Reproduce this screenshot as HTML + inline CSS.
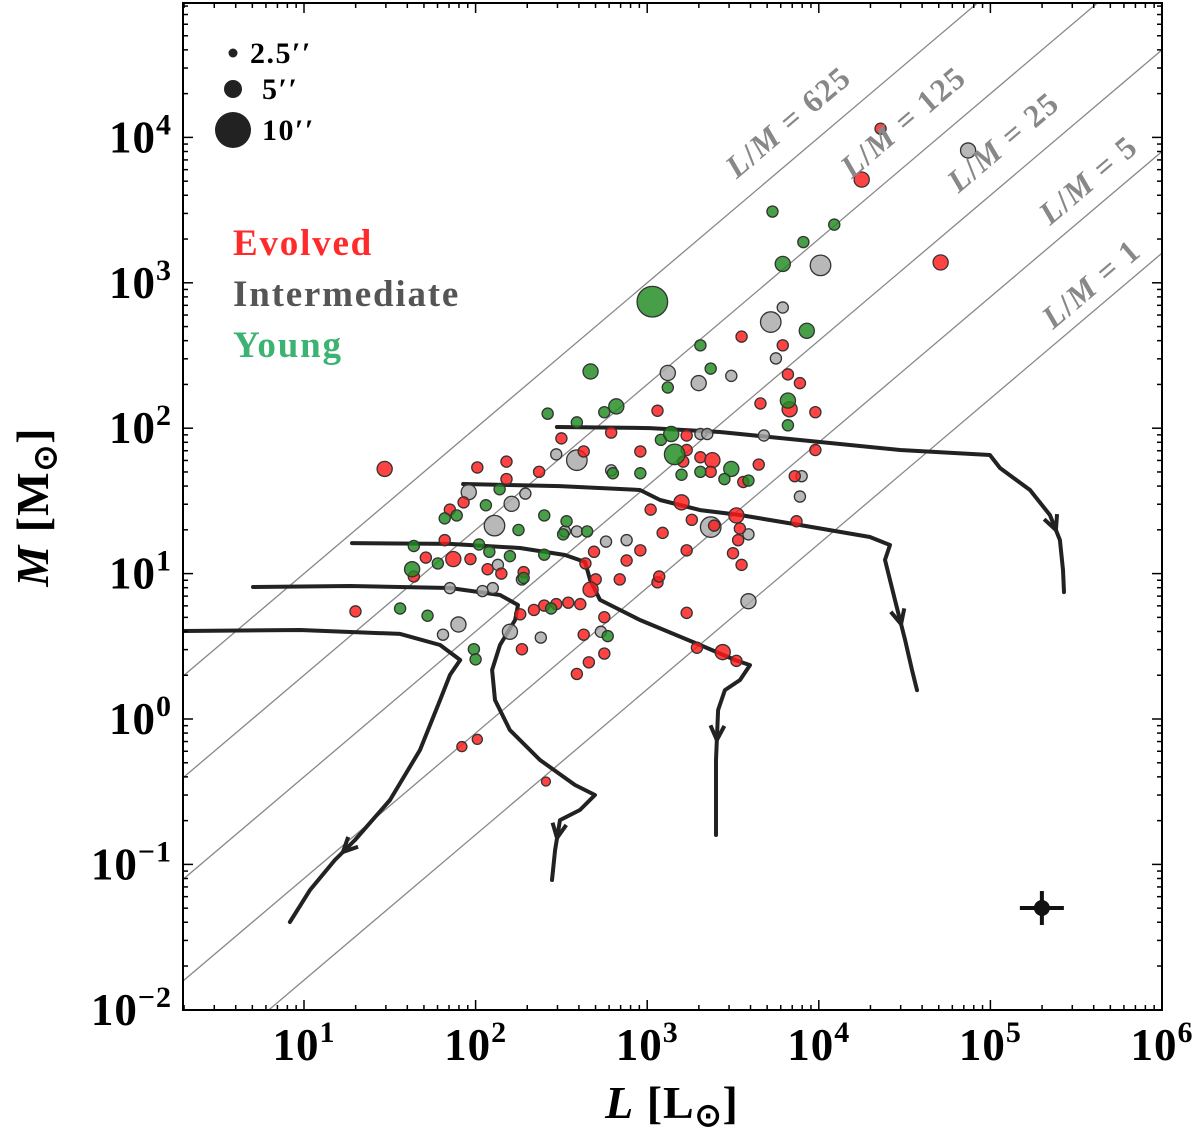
<!DOCTYPE html>
<html><head><meta charset="utf-8">
<style>
html,body{margin:0;padding:0;background:#fff;}
svg{display:block;font-family:"Liberation Serif",serif;}
</style></head>
<body>
<svg id="chart" width="1200" height="1130" viewBox="0 0 1200 1130" xmlns="http://www.w3.org/2000/svg">
<defs><clipPath id="plotclip"><rect x="183" y="3" width="979" height="1007"/></clipPath></defs>
<g id="grid" clip-path="url(#plotclip)"></g>
<g id="tracks" clip-path="url(#plotclip)"></g>
<g id="points" clip-path="url(#plotclip)"></g>
<g id="axes"></g>
<g id="legend"></g>
</svg>
<script>
// ---- data (log10 L [Lsun], log10 M [Msun]) ----
const redLogL=[4.36,4.25,4.71,1.47,3.06,3.55,3.79,3.82,3.83,3.98,3.66,3.98,3.86,3.65,3.56,3.31,3.23,2.96,2.79,2.63,2.50,2.37,2.18,2.18,2.01,1.93,1.85,1.82,1.71,1.87,1.64,1.30,1.97,2.07,2.15,2.28,2.64,2.69,2.70,2.67,2.61,2.54,2.47,2.40,2.34,2.26,2.84,2.75,2.63,2.27,2.75,2.66,2.59,3.29,3.44,3.52,3.23,3.06,2.96,3.09,3.02,3.20,3.26,3.39,3.52,3.54,3.53,3.50,3.55,3.23,3.07,2.88,2.41,2.01,1.92,3.38,3.21,3.37,3.87,3.23,3.89];
const redLogM=[4.06,3.71,3.14,1.72,2.12,2.63,2.57,2.37,2.13,2.11,2.17,1.85,1.67,1.75,1.63,1.80,1.85,1.84,1.97,1.84,1.93,1.70,1.77,1.65,1.73,1.49,1.44,1.23,1.11,1.10,0.98,0.74,1.10,1.03,1.00,1.01,1.07,1.15,0.96,0.89,0.79,0.80,0.79,0.78,0.75,0.72,0.96,0.70,0.58,0.48,0.45,0.39,0.31,0.49,0.46,0.40,0.73,0.94,1.16,1.28,1.44,1.49,1.37,1.33,1.40,1.31,1.23,1.14,1.06,1.16,0.98,1.09,-0.43,-0.14,-0.19,1.78,1.77,1.70,1.36,1.95,2.31];
const redSize=[3.1,4.2,4.2,4.2,3.1,3.1,3.1,3.1,4.2,3.1,3.1,3.1,3.1,3.1,3.1,3.1,3.1,3.1,3.1,3.1,3.1,3.1,3.1,3.1,3.1,3.1,3.1,3.1,3.1,4.2,3.1,3.1,3.1,3.1,3.1,3.1,3.1,3.1,3.1,4.2,3.1,3.1,3.1,3.1,3.1,3.1,3.1,3.1,3.1,3.1,3.1,3.1,3.1,3.1,4.2,3.1,3.1,3.1,3.1,3.1,3.1,4.2,3.1,3.1,4.2,3.1,3.1,3.1,3.1,3.1,3.1,3.1,2.5,2.8,2.8,4.2,3.1,3.1,3.1,3.1,3.1];
const grayLogL=[4.87,4.01,3.72,3.79,3.75,3.49,3.30,3.12,3.31,3.35,3.68,3.90,3.89,3.59,3.37,2.88,2.76,2.59,2.47,1.96,2.11,2.21,2.29,2.52,2.59,2.13,2.27,2.10,1.90,1.81,1.85,2.04,2.20,2.38,2.73,2.79,3.59];
const grayLogM=[3.91,3.12,2.73,2.83,2.48,2.36,2.31,2.38,1.96,1.96,1.95,1.67,1.53,0.81,1.32,1.23,1.22,1.78,1.82,1.56,1.33,1.48,1.55,1.29,1.29,1.06,0.96,0.90,0.65,0.58,0.90,0.88,0.60,0.56,0.60,1.71,1.27];
const graySize=[4.2,5.7,5.7,3.1,3.1,3.1,4.2,4.2,3.1,3.1,3.1,3.1,3.1,4.2,5.7,3.1,3.1,5.7,3.1,4.2,5.7,4.2,3.1,3.1,3.1,3.1,3.1,3.1,4.2,3.1,3.1,3.1,4.2,3.1,3.1,3.1,3.1];
const greenLogL=[3.03,3.73,3.91,4.09,3.79,3.93,3.31,2.67,2.82,2.42,2.59,2.75,3.12,3.37,3.08,3.14,3.16,3.31,3.49,2.80,3.20,3.82,3.82,3.59,2.96,2.14,1.89,1.82,2.06,2.40,2.53,2.65,2.51,2.25,2.08,2.20,2.40,1.64,1.63,1.78,2.02,1.56,1.72,2.28,1.99,2.00,2.44,3.45,2.77];
const greenLogM=[2.87,3.49,3.28,3.40,3.13,2.67,2.57,2.39,2.15,2.10,2.04,2.11,2.28,2.41,1.92,1.96,1.82,1.70,1.72,1.69,1.68,2.19,2.02,1.64,1.69,1.58,1.40,1.38,1.47,1.40,1.36,1.29,1.27,1.30,1.15,1.12,1.13,1.19,1.03,1.07,1.20,0.76,0.71,0.97,0.48,0.41,0.76,1.65,0.57];
const greenSize=[8.5,3.1,3.1,3.1,4.2,4.2,3.1,4.2,4.2,3.1,3.1,3.1,3.1,3.1,3.1,4.2,5.7,3.1,4.2,3.1,3.1,4.2,3.1,3.1,3.1,3.1,3.1,3.1,3.1,3.1,3.1,3.1,3.1,3.1,3.1,3.1,3.1,3.1,4.2,3.1,3.1,3.1,3.1,3.1,3.1,3.1,3.1,3.1,3.1];
const lmRatios=[625,125,25,5,1];
const lmLabels=["625","125","25","5","1"];
// evolutionary tracks (log L, log M)
const track1L=[0.295,0.977,1.560,1.793,1.910,1.851,1.793,1.676,1.501,1.297,1.180,1.035,0.918];
const track1M=[0.605,0.612,0.585,0.509,0.406,0.303,0.131,-0.213,-0.557,-0.832,-0.970,-1.176,-1.396];
const track2L=[0.703,1.268,1.851,2.142,2.247,2.230,2.142,2.096,2.113,2.200,2.375,2.579,2.696,2.608,2.492,2.463,2.445];
const track2M=[0.908,0.915,0.901,0.853,0.784,0.681,0.509,0.337,0.131,-0.076,-0.282,-0.454,-0.523,-0.626,-0.695,-0.901,-1.107];
const track3L=[1.280,1.851,2.259,2.521,2.638,2.667,2.725,2.958,3.308,3.512,3.599,3.541,3.453,3.413,3.401,3.401];
const track3M=[1.210,1.204,1.176,1.128,1.080,0.956,0.819,0.681,0.509,0.406,0.371,0.268,0.199,0.062,-0.282,-0.798];
const track4L=[1.927,2.492,2.958,3.075,3.308,3.541,3.890,4.298,4.415,4.386,4.444,4.503,4.543,4.572];
const track4M=[1.616,1.602,1.575,1.506,1.437,1.403,1.334,1.252,1.197,1.094,0.818,0.543,0.337,0.199];
const track5L=[2.474,3.016,3.424,3.890,4.473,4.997,5.056,5.231,5.347,5.405,5.423,5.429];
const track5M=[2.008,2.001,1.974,1.919,1.850,1.816,1.726,1.575,1.403,1.231,1.025,0.873];
const arrowSeg=[9,14,13,10,8];
const xTicks=[1,2,3,4,5,6];
const yTicks=[-2,-1,0,1,2,3,4];
const yTickLabels=["10","10","10","10","10","10","10"];
const errLogL=5.3, errLogM=-1.3;

// ---- axes functions ----
const X0=183,X1=1162,Y0=3,Y1=1010;
const X=l=>304+(l-1)*171.6;
const Y=m=>719-m*145.4;
const NS="http://www.w3.org/2000/svg";
function mk(tag,attrs,parent){const e=document.createElementNS(NS,tag);for(const k in attrs)e.setAttribute(k,attrs[k]);parent.appendChild(e);return e;}
const gGrid=document.getElementById('grid'),gTr=document.getElementById('tracks'),gP=document.getElementById('points'),gA=document.getElementById('axes'),gL=document.getElementById('legend');

// L/M lines
lmRatios.forEach((r,i)=>{
  const lr=Math.log10(r);
  const l=mk('line',{x1:X(0),y1:Y(0-lr),x2:X(7),y2:Y(7-lr),stroke:'#888','stroke-width':1.3},gGrid);
  
  
});
const lblPos=[[795,130],[910,130],[1010,150],[1095,188],[1098,292]];
lmRatios.forEach((r,i)=>{
  const t=mk('text',{x:lblPos[i][0],y:lblPos[i][1],fill:'#888','font-size':32,'font-weight':'bold','letter-spacing':1.5,'text-anchor':'middle',transform:`rotate(-40.3 ${lblPos[i][0]} ${lblPos[i][1]})`},gA);
  t.innerHTML='<tspan font-style="italic">L</tspan>/<tspan font-style="italic">M</tspan> = '+lmLabels[i];
  
  
});

// tracks
const tracksL=[track1L,track2L,track3L,track4L,track5L],tracksM=[track1M,track2M,track3M,track4M,track5M];
tracksL.forEach((tl,i)=>{
  const tm=tracksM[i];
  const pts=tl.map((v,j)=>X(v).toFixed(1)+','+Y(tm[j]).toFixed(1)).join(' ');
  const pl=mk('polyline',{points:pts,fill:'none',stroke:'#222','stroke-width':4,'stroke-linejoin':'round','stroke-linecap':'round'},gTr);
  
  
  const k=arrowSeg[i];
  const ax=X(tl[k]),ay=Y(tm[k]),bx=X(tl[k+1]),by=Y(tm[k+1]);
  const tx=ax+(bx-ax)*0.6,ty=ay+(by-ay)*0.6;
  const ang=Math.atan2(by-ay,bx-ax);
  const L=16,s=0.45;
  const p1=[tx-L*Math.cos(ang-s),ty-L*Math.sin(ang-s)],p2=[tx-L*Math.cos(ang+s),ty-L*Math.sin(ang+s)];
  const ar=mk('polyline',{points:`${p1[0]},${p1[1]} ${tx},${ty} ${p2[0]},${p2[1]}`,fill:'none',stroke:'#222','stroke-width':4,'stroke-linejoin':'round'},gTr);
  
  
});

// points
const R=a=>a*1.8;
function drawSet(ls,ms,ss,fill,name){
  ls.forEach((l,i)=>{
    const c=mk('circle',{cx:X(l),cy:Y(ms[i]),r:R(ss[i]),fill:fill,'fill-opacity':0.82,stroke:'#333','stroke-width':1.3},gP);
    
    
  });
}
drawSet(grayLogL,grayLogM,graySize,'#a8a8a8','intermediate-source');
drawSet(redLogL,redLogM,redSize,'#ff1a1a','evolved-source');
drawSet(greenLogL,greenLogM,greenSize,'#1f8a1f','young-source');

// error bar
const ex=X(errLogL),ey=Y(errLogM);
const eb=mk('g',{},gP);


mk('line',{x1:ex-22,y1:ey,x2:ex+22,y2:ey,stroke:'#111','stroke-width':4},eb);
mk('line',{x1:ex,y1:ey-17,x2:ex,y2:ey+17,stroke:'#111','stroke-width':4},eb);
mk('circle',{cx:ex,cy:ey,r:8,fill:'#111'},eb);

// frame
const fr=mk('rect',{x:X0,y:Y0,width:X1-X0,height:Y1-Y0,fill:'none',stroke:'#000','stroke-width':2},gA);



// ticks
for(let d=0;d<=6;d++){for(let k=1;k<10;k++){const v=d+Math.log10(k);const x=X(v);if(x<X0||x>X1)continue;const len=k===1?10:5;
  mk('line',{x1:x,y1:Y1,x2:x,y2:Y1-len,stroke:'#000','stroke-width':1.5},gA);
  mk('line',{x1:x,y1:Y0,x2:x,y2:Y0+len,stroke:'#000','stroke-width':1.5},gA);}}
for(let d=-2;d<=4;d++){for(let k=1;k<10;k++){const v=d+Math.log10(k);const y=Y(v);if(y<Y0||y>Y1)continue;const len=k===1?10:5;
  mk('line',{x1:X0,y1:y,x2:X0+len,y2:y,stroke:'#000','stroke-width':1.5},gA);
  mk('line',{x1:X1,y1:y,x2:X1-len,y2:y,stroke:'#000','stroke-width':1.5},gA);}}
xTicks.forEach(v=>{
  const t=mk('text',{x:X(v),y:1060,'font-size':45,'font-weight':'bold','text-anchor':'middle','letter-spacing':1},gA);
  t.innerHTML='10<tspan dy="-18" font-size="30">'+v+'</tspan>';
  
  
});
yTicks.forEach((v,i)=>{
  const lbl=v<0?'\u2212'+(-v):''+v;
  const t=mk('text',{x:172,y:Y(v)+15,'font-size':45,'font-weight':'bold','text-anchor':'end','letter-spacing':1},gA);
  t.innerHTML=yTickLabels[i]+'<tspan dy="-18" font-size="30">'+lbl+'</tspan>';
  
  
});
const xt=mk('text',{x:672,y:1118,'font-size':46,'font-weight':'bold','text-anchor':'middle','letter-spacing':1},gA);
xt.innerHTML='<tspan font-style="italic">L</tspan> [L<tspan font-size="32" dy="8">\u2299</tspan><tspan dy="-8">]</tspan>';


const yt=mk('text',{x:48,y:507,'font-size':46,'font-weight':'bold','text-anchor':'middle','letter-spacing':1,transform:'rotate(-90 48 507)'},gA);
yt.innerHTML='<tspan font-style="italic">M</tspan> [M<tspan font-size="32" dy="8">\u2299</tspan><tspan dy="-8">]</tspan>';



// legend
const legSizes=[2.5,5,10],legText=['2.5\u2032\u2032','5\u2032\u2032','10\u2032\u2032'],legY=[53,89,130],legTx=[250,262,262];
legSizes.forEach((s,i)=>{
  const c=mk('circle',{cx:233,cy:legY[i],r:s*1.8,fill:'#222'},gL);
  
  
  const t=mk('text',{x:legTx[i],y:legY[i]+10,'font-size':30,'font-weight':'bold','letter-spacing':1.5},gL);
  t.textContent=legText[i];
  
  
});
const cats=['Evolved','Intermediate','Young'],catCol=['#ff2a2a','#555555','#3cb371'],catY=[255,306,357];
cats.forEach((c,i)=>{
  const t=mk('text',{x:233,y:catY[i],'font-size':37,'font-weight':'bold','letter-spacing':1.8,fill:catCol[i]},gL);
  t.textContent=c;
  
  
});
</script>
</body></html>
